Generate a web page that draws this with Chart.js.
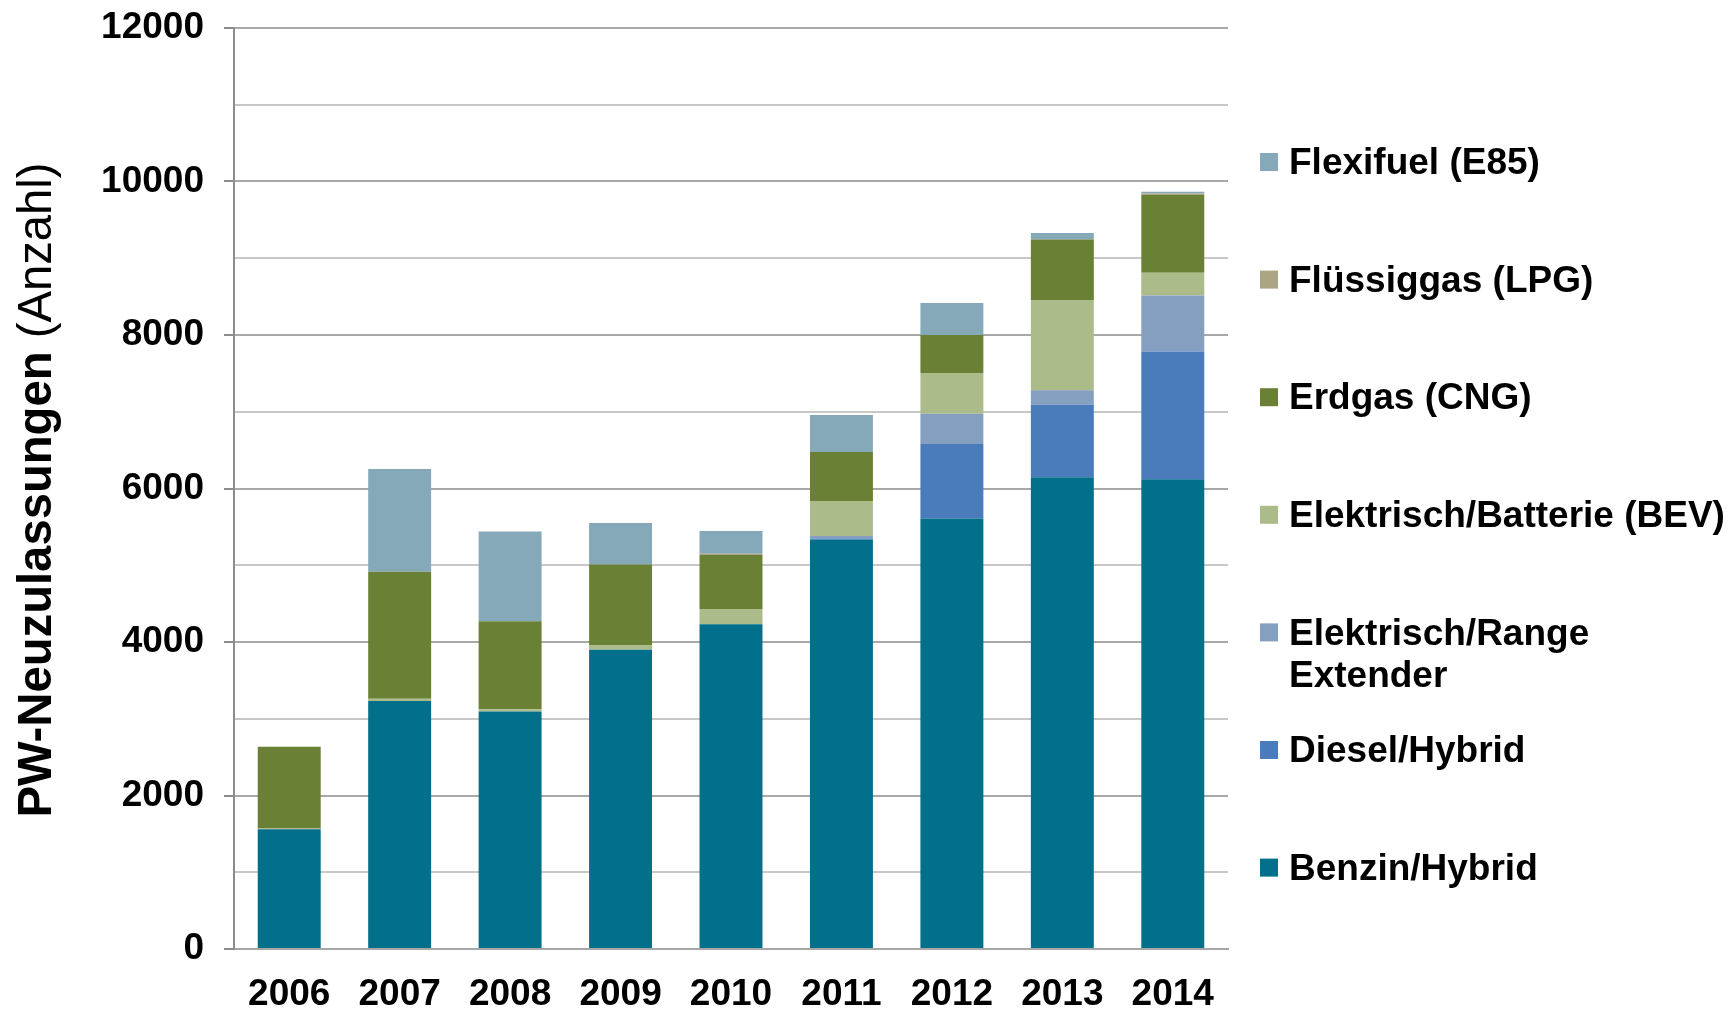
<!DOCTYPE html>
<html>
<head>
<meta charset="utf-8">
<script src="https://cdn.jsdelivr.net/npm/chart.js@4.4.1/dist/chart.umd.min.js"></script>
<style>
  html, body { margin: 0; padding: 0; background: #fff; }
  #wrap { width: 1732px; height: 1010px; }
</style>
</head>
<body>
<div id="wrap"><canvas id="chart" width="1732" height="1010"></canvas></div>
<script>
const years = ['2006', '2007', '2008', '2009', '2010', '2011', '2012', '2013', '2014'];

// stacked bottom to top
const benzinHybrid  = [1560, 3230, 3095, 3900, 4230, 5335, 5610, 6145, 6120];
const dieselHybrid  = [0, 0, 0, 0, 0, 15, 970, 945, 1665];
const rangeExtender = [0, 0, 0, 0, 0, 32, 395, 190, 730];
const batterieBEV   = [10, 30, 30, 55, 200, 455, 530, 1175, 295];
const erdgasCNG     = [1065, 1655, 1145, 1055, 705, 638, 494, 790, 1015];
const fluessiggas   = [0, 0, 0, 0, 15, 0, 0, 0, 20];
const flexifuel     = [0, 1340, 1170, 540, 295, 482, 417, 83, 20];

const yTicks = [0, 2000, 4000, 6000, 8000, 10000, 12000];

const FONT = '"Liberation Sans", Arial, sans-serif';

function ds(label, data, color) {
    return {
        label: label,
        data: data,
        backgroundColor: color,
        borderWidth: 0,
        barPercentage: 0.57,
        categoryPercentage: 1.0
    };
}

const datasets = [
    ds('Benzin/Hybrid', benzinHybrid, '#02708a'),
    ds('Diesel/Hybrid', dieselHybrid, '#4a7bbb'),
    ds(['Elektrisch/Range', 'Extender'], rangeExtender, '#849fc0'),
    ds('Elektrisch/Batterie (BEV)', batterieBEV, '#abbb8a'),
    ds('Erdgas (CNG)', erdgasCNG, '#6a8035'),
    ds('Flüssiggas (LPG)', fluessiggas, '#aca584'),
    ds('Flexifuel (E85)', flexifuel, '#86a9b9')
];

// y axis title: bold + regular part, rotated
const yTitlePlugin = {
    id: 'yTitle',
    afterDraw(chart) {
        const ctx = chart.ctx;
        const boldPart = 'PW-Neuzulassungen ';
        const regPart = '(Anzahl)';
        ctx.save();
        ctx.font = 'bold 49px ' + FONT;
        const wb = ctx.measureText(boldPart).width;
        ctx.font = '49px ' + FONT;
        const wr = ctx.measureText(regPart).width;
        const total = wb + wr;
        const sx = 655 / total;
        ctx.translate(51, 490);
        ctx.rotate(-Math.PI / 2);
        ctx.scale(sx, 1);
        ctx.fillStyle = '#000';
        ctx.textBaseline = 'alphabetic';
        ctx.textAlign = 'left';
        ctx.font = 'bold 49px ' + FONT;
        ctx.fillText(boldPart, -total / 2, 0);
        ctx.font = '49px ' + FONT;
        ctx.fillText(regPart, -total / 2 + wb, 0);
        ctx.restore();
    }
};

// legend on the right, top item = last dataset
const legendPlugin = {
    id: 'sideLegend',
    afterDraw(chart) {
        const ctx = chart.ctx;
        const items = chart.data.datasets.slice().reverse();
        ctx.save();
        ctx.font = 'bold 37px ' + FONT;
        ctx.textBaseline = 'middle';
        ctx.textAlign = 'left';
        items.forEach((d, i) => {
            const y = 162 + i * 117.6;
            ctx.fillStyle = d.backgroundColor;
            ctx.fillRect(1260, y - 9, 18, 18);
            ctx.fillStyle = '#000';
            const lines = Array.isArray(d.label) ? d.label : [d.label];
            lines.forEach((t, j) => ctx.fillText(t, 1289, y + 2 + j * 42));
        });
        ctx.restore();
    }
};

new Chart(document.getElementById('chart'), {
    type: 'bar',
    data: { labels: years, datasets: datasets },
    options: {
        responsive: false,
        animation: false,
        devicePixelRatio: 1,
        layout: { padding: { top: 28, right: 504, left: 0, bottom: 0 } },
        plugins: {
            legend: { display: false },
            tooltip: { enabled: false }
        },
        scales: {
            x: {
                stacked: true,
                grid: { display: false, drawTicks: false },
                border: { display: true, color: '#a6a6a6', width: 2 },
                ticks: {
                    color: '#000',
                    font: { family: FONT, size: 37, weight: 'bold' },
                    padding: 24,
                    maxRotation: 0
                },
                afterFit(scale) { scale.height = 61; }
            },
            y: {
                stacked: true,
                min: 0,
                max: 12000,
                ticks: {
                    stepSize: 1000,
                    color: '#000',
                    font: { family: FONT, size: 37, weight: 'bold' },
                    padding: 20,
                    callback: v => yTicks.includes(v) ? String(v) : ''
                },
                grid: {
                    color: c => (c.tick && c.tick.value % 2000 === 0) ? '#a8a8a8' : '#c8c8c8',
                    lineWidth: 2,
                    tickLength: 10,
                    tickColor: c => (c.tick && c.tick.value % 2000 === 0) ? '#8c8c8c' : 'rgba(0,0,0,0)',
                    tickWidth: 2
                },
                border: { display: true, color: '#8c8c8c', width: 2 },
                afterFit(scale) {
                    scale.width = 234;
                    scale.paddingTop = 0;
                    scale.paddingBottom = 0;
                }
            }
        }
    },
    plugins: [yTitlePlugin, legendPlugin]
});
</script>
</body>
</html>
